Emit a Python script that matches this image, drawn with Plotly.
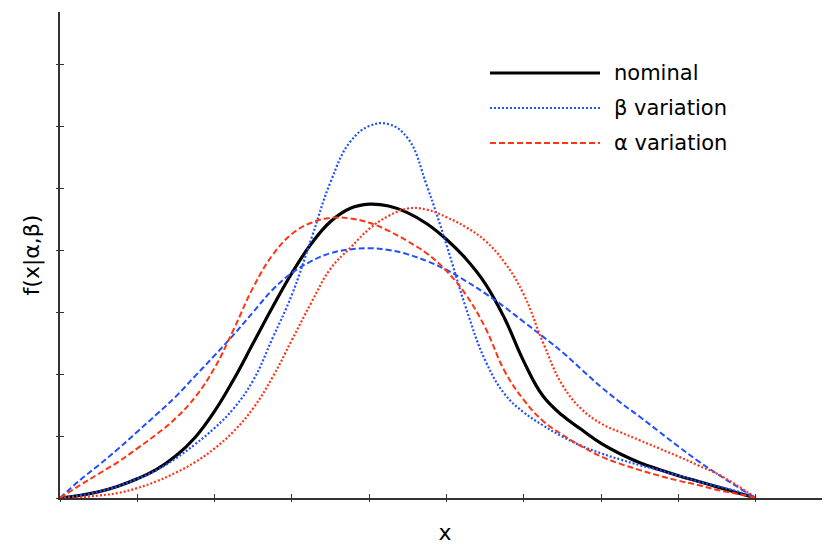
import plotly.graph_objects as go

# ---------------- data ----------------
x = [0, 0.25, 0.5, 0.75, 1.0, 1.25, 1.5, 1.75, 2.0, 2.25, 2.5, 2.75, 3.0, 3.25,
     3.5, 3.75, 4.0, 4.25, 4.5, 4.75, 5.0, 5.25, 5.5, 5.75, 6.0, 6.25, 6.5, 6.75,
     7.0, 7.25, 7.5, 7.75, 8.0, 8.25, 8.5, 8.75, 9.0]

nominal = [0, 0.04, 0.10, 0.19, 0.31, 0.46, 0.68, 0.98, 1.40, 1.92, 2.50, 3.08,
           3.63, 4.10, 4.46, 4.67, 4.74, 4.71, 4.60, 4.42, 4.17, 3.86, 3.46, 2.90,
           2.20, 1.64, 1.33, 1.10, 0.88, 0.71, 0.57, 0.46, 0.36, 0.27, 0.18, 0.09, 0]

beta_narrow = [0, 0.04, 0.10, 0.19, 0.31, 0.45, 0.64, 0.87, 1.13, 1.45, 1.90, 2.58,
               3.28, 4.18, 5.10, 5.74, 6.00, 6.03, 5.80, 5.02, 4.08, 3.07, 2.22, 1.68,
               1.38, 1.17, 0.99, 0.84, 0.72, 0.62, 0.53, 0.45, 0.36, 0.27, 0.19, 0.11, 0]

beta_wide = [0, 0.28, 0.53, 0.79, 1.07, 1.35, 1.64, 1.97, 2.30, 2.64, 3.00, 3.36,
             3.63, 3.82, 3.95, 4.01, 4.03, 4.00, 3.93, 3.82, 3.68, 3.50, 3.30, 3.08,
             2.84, 2.60, 2.35, 2.07, 1.79, 1.54, 1.31, 1.07, 0.83, 0.60, 0.39, 0.19, 0]

alpha_left = [0, 0.20, 0.39, 0.58, 0.80, 1.03, 1.29, 1.63, 2.10, 2.73, 3.40, 3.92,
              4.26, 4.44, 4.52, 4.51, 4.44, 4.31, 4.14, 3.94, 3.66, 3.28, 2.75, 2.05,
              1.58, 1.24, 1.02, 0.83, 0.67, 0.55, 0.45, 0.36, 0.28, 0.21, 0.13, 0.07, 0]

alpha_right = [0, 0.01, 0.04, 0.08, 0.16, 0.27, 0.41, 0.58, 0.80, 1.08, 1.45, 1.95,
               2.55, 3.15, 3.70, 4.03, 4.34, 4.55, 4.67, 4.65, 4.53, 4.37, 4.15, 3.80,
               3.28, 2.50, 1.82, 1.43, 1.20, 1.06, 0.93, 0.80, 0.67, 0.53, 0.39, 0.21, 0]

legend_labels = ["nominal", "β variation", "α variation"]
x_ticks = [0, 1, 2, 3, 4, 5, 6, 7, 8, 9]
y_ticks = [0, 1, 2, 3, 4, 5, 6, 7]
x_title = "x"
y_title = "f(x|α,β)"

# ---------------- styling ----------------
BLACK = "#000000"
BLUE = "#1f4fff"
RED = "#ff3414"
FONT = "DejaVu Sans"
AXIS = "#333333"
X_RANGE = [0, 9.96]
Y_RANGE = [0, 7.84]
SMOOTH = 1.2

fig = go.Figure()

fig.add_trace(go.Scatter(x=x, y=nominal, mode="lines", name=legend_labels[0],
                         line=dict(color=BLACK, width=3.2, shape="spline", smoothing=SMOOTH)))
fig.add_trace(go.Scatter(x=x, y=beta_wide, mode="lines", name=legend_labels[1],
                         line=dict(color=BLUE, width=2, dash="6px,3px", shape="spline", smoothing=SMOOTH)))
fig.add_trace(go.Scatter(x=x, y=beta_narrow, mode="lines", name=legend_labels[1],
                         line=dict(color=BLUE, width=2.2, dash="2px,2px", shape="spline", smoothing=SMOOTH)))
fig.add_trace(go.Scatter(x=x, y=alpha_left, mode="lines", name=legend_labels[2],
                         line=dict(color=RED, width=2, dash="6px,3px", shape="spline", smoothing=SMOOTH)))
fig.add_trace(go.Scatter(x=x, y=alpha_right, mode="lines", name=legend_labels[2],
                         line=dict(color=RED, width=2.2, dash="2px,2px", shape="spline", smoothing=SMOOTH)))
# invisible trace to create the overlay axes used for the outward half of the ticks
fig.add_trace(go.Scatter(x=x, y=nominal, xaxis="x2", yaxis="y2", mode="lines",
                         line=dict(width=0), opacity=0, hoverinfo="skip", showlegend=False))

for tr in fig.data[:5]:
    tr.showlegend = False

# manual legend (long line samples like the reference)
leg_rows = [
    (legend_labels[0], BLACK, 3.2, "solid", 0.8745),
    (legend_labels[1], BLUE, 2, "2px,2px", 0.8025),
    (legend_labels[2], RED, 2, "6px,3px", 0.7305),
]
for label, col, w, dash, yy in leg_rows:
    fig.add_shape(type="line", xref="paper", yref="paper", x0=0.5584, x1=0.7013,
                  y0=yy, y1=yy, line=dict(color=col, width=w, dash=dash))
    fig.add_annotation(xref="paper", yref="paper", x=0.7169, y=yy, text=label,
                       showarrow=False, xanchor="left", yanchor="middle",
                       font=dict(family=FONT, size=21, color="#000000"))

# the page body adds an 8px offset, so the figure is sized 8px smaller
fig.update_layout(
    width=822, height=537,
    margin=dict(l=52, r=0, t=4, b=47),
    paper_bgcolor="white", plot_bgcolor="white",
    showlegend=False,
    font=dict(family=FONT, color="#000000"),
    xaxis=dict(range=X_RANGE, showline=True, linecolor=AXIS, linewidth=1.5,
               ticks="inside", ticklen=4, tickcolor=AXIS, tickwidth=1.2, automargin=False,
               tickvals=x_ticks, showticklabels=False, showgrid=False, zeroline=False,
               title=dict(text=x_title, font=dict(size=22), standoff=30)),
    yaxis=dict(range=Y_RANGE, showline=True, linecolor=AXIS, linewidth=1.5,
               ticks="inside", ticklen=4, tickcolor=AXIS, tickwidth=1.2, automargin=False,
               tickvals=y_ticks, showticklabels=False, showgrid=False, zeroline=False,
               title=dict(text=y_title, font=dict(size=22), standoff=13)),
    xaxis2=dict(range=X_RANGE, overlaying="x", anchor="y2", side="bottom", automargin=False,
                showline=False, ticks="outside", ticklen=3, tickcolor=AXIS, tickwidth=1.2,
                tickvals=x_ticks, showticklabels=False, showgrid=False, zeroline=False),
    yaxis2=dict(range=Y_RANGE, overlaying="y", anchor="x2", side="left", automargin=False,
                showline=False, ticks="outside", ticklen=3, tickcolor=AXIS, tickwidth=1.2,
                tickvals=y_ticks, showticklabels=False, showgrid=False, zeroline=False),
)

fig.write_html("out.html")
